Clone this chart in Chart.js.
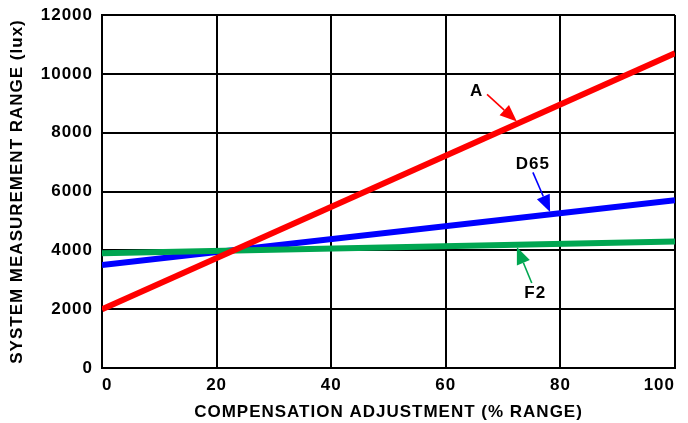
<!DOCTYPE html>
<html>
<head>
<meta charset="utf-8">
<script src="https://cdn.jsdelivr.net/npm/chart.js@4.4.1/dist/chart.umd.min.js"></script>
<style>
  html, body { margin: 0; padding: 0; background: #fff; }
  #wrap { width: 688px; height: 423px; }
</style>
</head>
<body>
<div id="wrap"><canvas id="c" width="688" height="423"></canvas></div>
<script>
// ---- data ----
const xTicks = [0, 20, 40, 60, 80, 100];
const yTicks = [0, 2000, 4000, 6000, 8000, 10000, 12000];
const compensation = [0, 100];
const seriesA = [2000, 10700];
const seriesD65 = [3500, 5700];
const seriesF2 = [3900, 4300];

// annotations: label, text position, arrow start, arrow tip (data units)
const noteLabels = ['A', 'D65', 'F2'];
const noteTextX = [65.4, 75.2, 75.6];
const noteTextY = [9400, 6930, 2550];
const noteFromX = [67.2, 75.2, 75.0];
const noteFromY = [9300, 6650, 2890];
const noteTipX = [72.4, 78.2, 72.4];
const noteTipY = [8380, 5300, 4110];
const noteColors = ['#ff0000', '#0000ff', '#00a651'];

const FONT = "'Liberation Sans', Arial, Helvetica, sans-serif";

function pts(xs, ys) { return xs.map((x, i) => ({ x: x, y: ys[i] })); }

const spacingPlugin = {
  id: 'spacing',
  beforeLayout(chart) { chart.ctx.letterSpacing = '1px'; },
  beforeDraw(chart) { chart.ctx.letterSpacing = '1px'; }
};

const notesPlugin = {
  id: 'notes',
  afterDatasetsDraw(chart) {
    const ctx = chart.ctx;
    const xs = chart.scales.x, ys = chart.scales.y;
    ctx.save();
    for (let i = 0; i < noteLabels.length; i++) {
      const fx = xs.getPixelForValue(noteFromX[i]), fy = ys.getPixelForValue(noteFromY[i]);
      const tx = xs.getPixelForValue(noteTipX[i]), ty = ys.getPixelForValue(noteTipY[i]);
      const ang = Math.atan2(ty - fy, tx - fx);
      const headLen = 17, headW = 7;
      const bx = tx - headLen * Math.cos(ang), by = ty - headLen * Math.sin(ang);
      ctx.strokeStyle = noteColors[i];
      ctx.fillStyle = noteColors[i];
      ctx.lineWidth = 1.6;
      ctx.beginPath();
      ctx.moveTo(fx, fy);
      ctx.lineTo(bx, by);
      ctx.stroke();
      ctx.beginPath();
      ctx.moveTo(tx, ty);
      ctx.lineTo(bx + headW * Math.sin(ang), by - headW * Math.cos(ang));
      ctx.lineTo(bx - headW * Math.sin(ang), by + headW * Math.cos(ang));
      ctx.closePath();
      ctx.fill();
      ctx.fillStyle = '#000';
      ctx.font = 'bold 17px ' + FONT;
      ctx.letterSpacing = '1px';
      ctx.textAlign = 'center';
      ctx.textBaseline = 'middle';
      ctx.fillText(noteLabels[i], xs.getPixelForValue(noteTextX[i]), ys.getPixelForValue(noteTextY[i]));
    }
    ctx.restore();
  }
};

const lineDs = (label, data, color, order) => ({
  label, data, borderColor: color, backgroundColor: color,
  borderWidth: 6, pointRadius: 0, tension: 0, fill: false, order,
  borderCapStyle: 'butt'
});

new Chart(document.getElementById('c'), {
  type: 'line',
  data: {
    datasets: [
      lineDs('A', pts(compensation, seriesA), '#ff0000', 1),
      lineDs('F2', pts(compensation, seriesF2), '#00a651', 2),
      lineDs('D65', pts(compensation, seriesD65), '#0000ff', 3)
    ]
  },
  options: {
    responsive: false,
    animation: false,
    devicePixelRatio: 1,
    layout: { padding: { left: 0, top: 15, right: 13, bottom: 0 } },
    plugins: { legend: { display: false }, tooltip: { enabled: false } },
    scales: {
      x: {
        type: 'linear', min: 0, max: 100,
        afterBuildTicks(s) { s.ticks = xTicks.map(v => ({ value: v })); },
        afterFit(s) { s.height = 55; s.paddingLeft = 0; s.paddingRight = 0; },
        grid: { color: '#000', lineWidth: 2, drawTicks: false },
        border: { display: true, color: '#000', width: 2 },
        ticks: { color: '#000', padding: 7, maxRotation: 0, align: 'inner',
                 font: { family: FONT, size: 17, weight: 'bold' },
                 callback: v => String(v) },
        title: { display: true, text: 'COMPENSATION ADJUSTMENT (% RANGE)', color: '#000',
                 padding: { top: 0, bottom: 0 }, font: { family: FONT, size: 17, weight: 'bold' } }
      },
      y: {
        type: 'linear', min: 0, max: 12000,
        afterBuildTicks(s) { s.ticks = yTicks.map(v => ({ value: v })); },
        afterFit(s) { s.width = 102; s.paddingTop = 0; s.paddingBottom = 0; },
        grid: { color: '#000', lineWidth: 2, drawTicks: false },
        border: { display: true, color: '#000', width: 2 },
        ticks: { color: '#000', padding: 9, font: { family: FONT, size: 17, weight: 'bold' },
                 callback: v => String(v) },
        title: { display: true, text: 'SYSTEM MEASUREMENT RANGE (lux)', color: '#000',
                 padding: { top: 7, bottom: 0 }, font: { family: FONT, size: 17, weight: 'bold' } }
      }
    }
  },
  plugins: [spacingPlugin, notesPlugin]
});
</script>
</body>
</html>
